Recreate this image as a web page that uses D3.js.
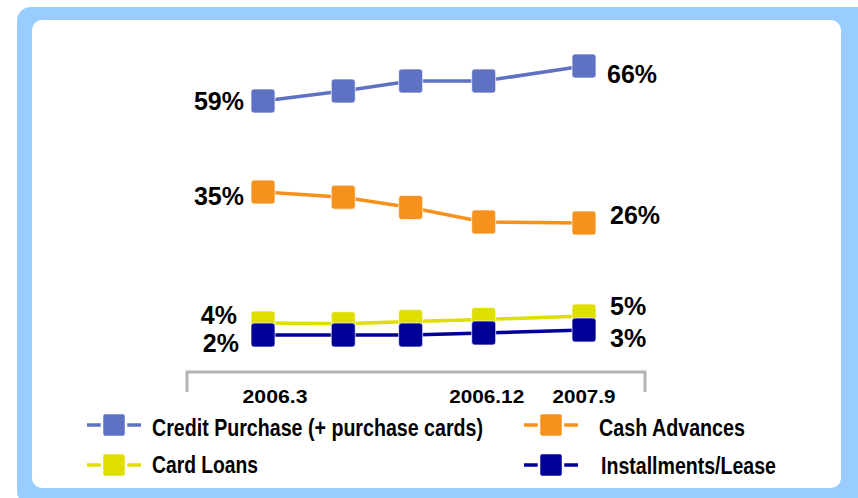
<!DOCTYPE html>
<html>
<head>
<meta charset="utf-8">
<script src="https://cdn.jsdelivr.net/npm/d3@7/dist/d3.min.js"></script>
<style>
  html, body { margin: 0; padding: 0; background: #ffffff; }
  svg { display: block; }
  text { font-family: "Liberation Sans", Arial, Helvetica, sans-serif; font-weight: bold; fill: #000; }
</style>
</head>
<body>
<svg id="chart" width="858" height="498"></svg>
<script>
// ---------- data ----------
const periods = ["2006.3", "2006.6", "2006.9", "2006.12", "2007.9"];
const periodSlot = [0, 1, 1.84, 2.75, 4];          // uneven spacing of the periods on the x axis
const tickLabels = ["2006.3", "", "", "2006.12", "2007.9"];

const seriesNames = ["Credit Purchase (+ purchase cards)", "Cash Advances", "Card Loans", "Installments/Lease"];
const creditPurchase = [59, 61, 63, 63, 66];
const cashAdvances   = [35, 33.5, 30.5, 26.3, 26];
const cardLoans      = [4, 3.9, 4.2, 4.5, 5];
const installments   = [2, 2, 2, 2.4, 3];

const startLabels = ["59%", "35%", "4%", "2%"];
const endLabels   = ["66%", "26%", "5%", "3%"];

// ---------- style / layout ----------
const colors = ["#5f71c3", "#f5921e", "#dede00", "#000096"];
const W = 858, H = 498;
const svg = d3.select("#chart");

// broken (piecewise) value axis, as in the original schematic chart
const yDomain = [2, 3, 5, 26, 35, 59, 66];
const yRange  = [335, 330, 316, 223, 192, 101, 66];

const x = d3.scaleLinear().domain([0, 4]).range([263, 584]);
const y = d3.scaleLinear().domain(yDomain).range(yRange);

// frame
svg.append("rect").attr("x", 17).attr("y", 7).attr("width", W).attr("height", H)
  .attr("rx", 14).attr("fill", "#99ccff");
svg.append("rect").attr("x", 32).attr("y", 20).attr("width", 809).attr("height", 468)
  .attr("rx", 10).attr("fill", "#ffffff");

// axis bracket
const axisY = 372;
svg.append("path")
  .attr("d", `M187,392V${axisY}H645V392`)
  .attr("fill", "none").attr("stroke", "#b4b4b4").attr("stroke-width", 3);

const tickDx = [12, 0, 0, 3, 0];
const tickW = [65, 0, 0, 75, 63];
periods.forEach((p, i) => {
  if (!tickLabels[i]) return;
  svg.append("text")
    .attr("x", x(periodSlot[i]) + tickDx[i])
    .attr("y", 403)
    .attr("text-anchor", "middle")
    .attr("font-size", 18)
    .attr("textLength", tickW[i])
    .attr("lengthAdjust", "spacingAndGlyphs")
    .text(tickLabels[i]);
});

// series
const allSeries = [creditPurchase, cashAdvances, cardLoans, installments];
const line = d3.line().x((d, i) => x(periodSlot[i])).y(d => y(d));
const MS = 24;

allSeries.forEach((vals, s) => {
  const g = svg.append("g");
  g.append("path").attr("d", line(vals))
    .attr("fill", "none").attr("stroke", colors[s]).attr("stroke-width", 3.5);
  g.selectAll("rect").data(vals).join("rect")
    .attr("x", (d, i) => x(periodSlot[i]) - MS / 2)
    .attr("y", d => y(d) - MS / 2)
    .attr("width", MS).attr("height", MS)
    .attr("rx", 3)
    .attr("fill", colors[s])
    .attr("stroke", "#ffffff").attr("stroke-opacity", 0.7).attr("stroke-width", 1);
});

// value labels (first and last period)
const startOff = [[-19, 9], [-19, 13], [-26, 1], [-24, 17]];
const endOff   = [[23, 17], [26, 1], [26, -1], [26, 17]];
allSeries.forEach((vals, s) => {
  svg.append("text")
    .attr("x", x(periodSlot[0]) + startOff[s][0])
    .attr("y", y(vals[0]) + startOff[s][1])
    .attr("text-anchor", "end").attr("font-size", 25)
    .text(startLabels[s]);
  const last = vals.length - 1;
  svg.append("text")
    .attr("x", x(periodSlot[last]) + endOff[s][0])
    .attr("y", y(vals[last]) + endOff[s][1])
    .attr("text-anchor", "start").attr("font-size", 25)
    .text(endLabels[s]);
});

// legend
const legendPos = [[114, 425, 152, 331, 11], [551, 425, 599, 146, 11], [114, 465, 152, 106, 8], [551, 465, 601, 175, 9]];
seriesNames.forEach((name, s) => {
  const [cx, cy, tx, tw, tdy] = legendPos[s];
  const g = svg.append("g");
  g.append("line").attr("x1", cx - 27).attr("x2", cx + 27).attr("y1", cy).attr("y2", cy)
    .attr("stroke", colors[s]).attr("stroke-width", 3.5);
  g.append("rect").attr("x", cx - 12).attr("y", cy - 12).attr("width", 24).attr("height", 24)
    .attr("rx", 3).attr("fill", colors[s])
    .attr("stroke", "#ffffff").attr("stroke-width", 2.5);
  g.append("text").attr("x", tx).attr("y", cy + tdy)
    .attr("font-size", 23)
    .attr("textLength", tw).attr("lengthAdjust", "spacingAndGlyphs")
    .text(name);
});
</script>
</body>
</html>
